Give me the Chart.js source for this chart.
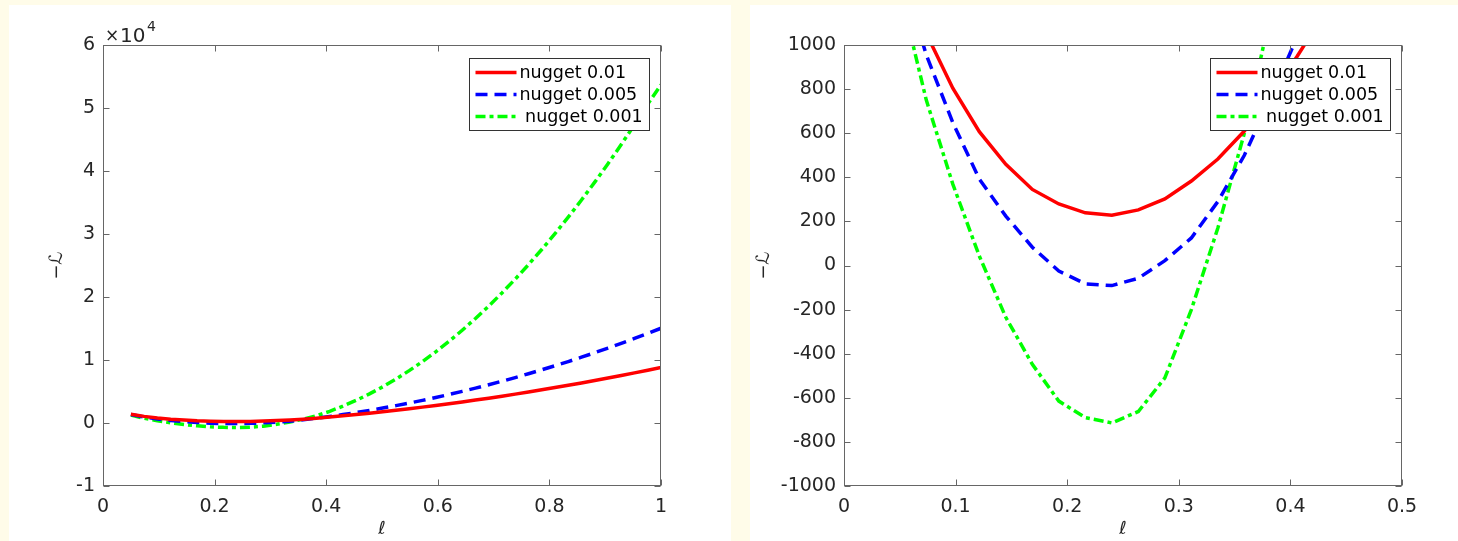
<!DOCTYPE html>
<html>
<head>
<meta charset="utf-8">
<script src="https://cdn.jsdelivr.net/npm/chart.js@4.4.1/dist/chart.umd.min.js"></script>
<style>
  body { margin: 0; background: #fffce9; width: 1458px; height: 541px; position: relative; overflow: hidden; }
  .panel { position: absolute; top: 5px; background: #fff; }
  #p1 { left: 9px; width: 722px; height: 536px; }
  #p2 { left: 750px; width: 708px; height: 536px; }
</style>
</head>
<body>
<div class="panel" id="p1"><canvas id="graficoTotal" width="722" height="536"></canvas></div>
<div class="panel" id="p2"><canvas id="graficoZoom" width="708" height="536"></canvas></div>
<script>
// length-scale grid (ell)
const ell = [0.05, 0.07375, 0.0975, 0.12125, 0.145, 0.16875, 0.1925, 0.21625, 0.24, 0.26375,
  0.2875, 0.31125, 0.335, 0.35875, 0.3825, 0.40625, 0.43, 0.45375, 0.4775, 0.50125,
  0.525, 0.54875, 0.5725, 0.59625, 0.62, 0.64375, 0.6675, 0.69125, 0.715, 0.73875,
  0.7625, 0.78625, 0.81, 0.83375, 0.8575, 0.88125, 0.905, 0.92875, 0.9525, 0.97625, 1.0];

// -L for each nugget
const nugget001 = [1385, 1052, 804, 607, 459, 345, 279, 239, 228, 252,
  302, 383, 483, 610, 770, 950, 1140, 1345, 1560, 1785,
  2020, 2265, 2520, 2785, 3060, 3345, 3640, 3945, 4260, 4585,
  4920, 5265, 5620, 5985, 6360, 6745, 7140, 7545, 7960, 8385, 8820];
const nugget0005 = [1355, 955, 648, 392, 224, 83, -25, -83, -91, -58,
  22, 125, 290, 500, 760, 1040, 1340, 1662, 2005, 2370,
  2757, 3165, 3595, 4047, 4520, 5015, 5532, 6070, 6630, 7212,
  7815, 8440, 9087, 9755, 10445, 11157, 11890, 12645, 13422, 14220, 15040];
const nugget0001 = [1250, 750, 369, 43, -235, -448, -615, -690, -714, -662,
  -510, -200, 170, 600, 1150, 1850, 2680, 3600, 4620, 5740,
  6970, 8310, 9750, 11300, 12960, 14720, 16590, 18570, 20650, 22840,
  25140, 27540, 30050, 32670, 35400, 38230, 41160, 44210, 47360, 50620, 53700];

const labels = ["nugget 0.01", "nugget 0.005", " nugget 0.001"];

const FONT = "'DejaVu Sans', 'Liberation Sans', sans-serif";
const TXT = "#262626";
const AXC = "#666666";

function montarDatasets() {
  const pts = arr => arr.map((v, i) => ({ x: ell[i], y: v }));
  return [
    { label: labels[0], data: pts(nugget001), borderColor: "#ff0000", borderWidth: 3.5 },
    { label: labels[1], data: pts(nugget0005), borderColor: "#0000ff", borderWidth: 3.5, borderDash: [12, 7] },
    { label: labels[2], data: pts(nugget0001), borderColor: "#00ff00", borderWidth: 3.5, borderDash: [10, 4, 4, 4] },
  ].map(d => Object.assign(d, { pointRadius: 0, tension: 0, fill: false }));
}

// box, inward ticks on all sides, legend box (matlab look)
const estiloMatlab = {
  id: "estiloMatlab",
  afterDatasetsDraw(chart, args, opts) {
    const { ctx, chartArea: a, scales } = chart;
    const L = Math.round(a.left) + 0.5, R = Math.round(a.right) - 0.5;
    const T = Math.round(a.top) + 0.5, B = Math.round(a.bottom) - 0.5;
    ctx.save();
    ctx.strokeStyle = AXC;
    ctx.lineWidth = 1;
    ctx.setLineDash([]);
    ctx.strokeRect(L, T, R - L, B - T);
    ctx.beginPath();
    scales.x.ticks.forEach(t => {
      const px = Math.round(scales.x.getPixelForValue(t.value)) + 0.5;
      ctx.moveTo(px, B); ctx.lineTo(px, B - 6);
      ctx.moveTo(px, T); ctx.lineTo(px, T + 6);
    });
    scales.y.ticks.forEach(t => {
      const py = Math.round(scales.y.getPixelForValue(t.value)) + 0.5;
      ctx.moveTo(L, py); ctx.lineTo(L + 6, py);
      ctx.moveTo(R, py); ctx.lineTo(R - 6, py);
    });
    ctx.stroke();

    // legend
    const w = 180, h = 72;
    const lx = Math.round(a.right) - 12 - w + 0.5, ly = Math.round(a.top) + 13 + 0.5;
    ctx.fillStyle = "#fff";
    ctx.fillRect(lx, ly, w, h);
    ctx.strokeStyle = "#333";
    ctx.strokeRect(lx, ly, w, h);
    ctx.font = "17.5px " + FONT;
    ctx.textBaseline = "middle";
    chart.data.datasets.forEach((d, i) => {
      const y = ly + 14 + i * 22;
      ctx.strokeStyle = d.borderColor;
      ctx.lineWidth = d.borderWidth;
      ctx.setLineDash(d.borderDash || []);
      ctx.beginPath();
      ctx.moveTo(lx + 6, y); ctx.lineTo(lx + 47, y);
      ctx.stroke();
      ctx.fillStyle = "#000";
      ctx.fillText(d.label, lx + 50, y + 1);
    });
    ctx.setLineDash([]);

    // x10^4 multiplier
    if (opts.expoente) {
      ctx.fillStyle = TXT;
      ctx.textBaseline = "alphabetic";
      ctx.font = "17px " + FONT;
      ctx.fillText("\u00d7", a.left + 2, a.top - 4);
      ctx.font = "20px " + FONT;
      ctx.fillText("10", a.left + 17, a.top - 3);
      ctx.font = "14px " + FONT;
      ctx.fillText(opts.expoente, a.left + 44, a.top - 14);
    }
    ctx.restore();
  }
};

function opcoes(xMax, xStep, yMin, yMax, yStep, yFmt, padRight, yTitlePad, expoente) {
  return {
    responsive: false,
    animation: false,
    layout: { padding: { top: 40, right: padRight, left: 0, bottom: 0 } },
    plugins: { legend: { display: false }, tooltip: { enabled: false }, estiloMatlab: { expoente } },
    scales: {
      x: {
        type: "linear", min: 0, max: xMax,
        grid: { display: false, drawTicks: false }, border: { display: false },
        ticks: { stepSize: xStep, padding: 10, color: TXT, font: { family: FONT, size: 19 },
          callback: v => String(Math.round(v * 10) / 10) },
        title: { display: true, text: "\u2113", color: TXT, font: { family: FONT, size: 18 }, padding: { top: 0, bottom: 1 } },
        afterFit: s => { s.height = 55; }
      },
      y: {
        min: yMin, max: yMax,
        grid: { display: false, drawTicks: false }, border: { display: false },
        ticks: { stepSize: yStep, padding: 8, color: TXT, font: { family: FONT, size: 19 }, callback: yFmt },
        title: { display: true, text: "\u2212\u2112", color: TXT, font: { family: FONT, size: 18 }, padding: { top: yTitlePad, bottom: 0 } },
        afterFit: s => { s.width = 94; }
      }
    }
  };
}

new Chart(document.getElementById("graficoTotal"), {
  type: "line",
  data: { datasets: montarDatasets() },
  options: opcoes(1, 0.2, -10000, 60000, 10000, v => String(v / 10000), 70, 38, "4"),
  plugins: [estiloMatlab]
});

new Chart(document.getElementById("graficoZoom"), {
  type: "line",
  data: { datasets: montarDatasets() },
  options: opcoes(0.5, 0.1, -1000, 1000, 200, v => String(v), 56, 4, null),
  plugins: [estiloMatlab]
});
</script>
</body>
</html>
